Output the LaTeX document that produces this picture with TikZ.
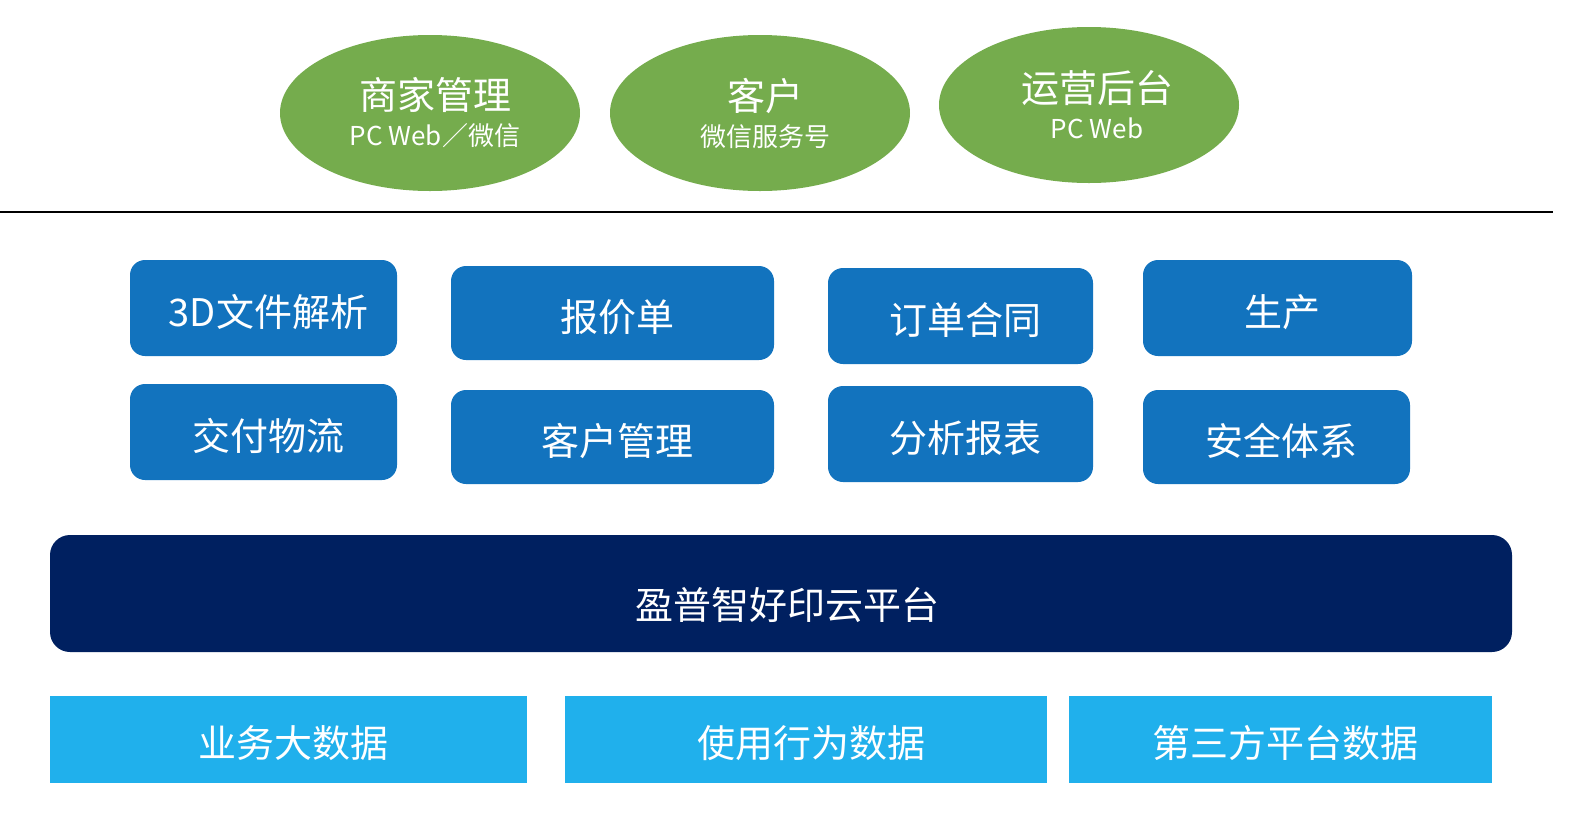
\documentclass[tikz,border=0pt]{standalone}
\usepackage{fontspec}
\newfontfamily\cjk{Noto Sans CJK SC}
\usetikzlibrary{positioning, shapes.geometric}
\definecolor{appgreen}{RGB}{117, 172, 77}
\definecolor{modblue}{RGB}{18, 115, 190}
\definecolor{platnavy}{RGB}{0, 32, 96}
\definecolor{datacyan}{RGB}{32, 176, 236}
\newcommand{\appsub}[1]{{\fontsize{26}{26}\selectfont #1}}

\begin{document}
\begin{tikzpicture}[x=1pt, y=-1pt,
      appnode/.style={ellipse, fill=appgreen, minimum width=300pt, minimum height=156pt, inner sep=0pt, align=center, text=white, font=\cjk\fontsize{38}{36}\selectfont},
      modbox/.style={fill=modblue, minimum width=#1, minimum height=96pt, rounded corners=15pt, text=white, inner sep=0pt, text height=40pt, text depth=3pt, font=\cjk\fontsize{38}{42}\selectfont, execute at begin node=\hspace*{10pt}},
      databox/.style={fill=datacyan, minimum width=#1, minimum height=87pt, text=white, inner sep=0pt, text height=39pt, text depth=3pt, font=\cjk\fontsize{38}{42}\selectfont, execute at begin node=\hspace*{10pt}},
      sepline/.style={line width=1.5pt, black}
    ]
      \useasboundingbox (0,0) rectangle (1572,836);

      % client applications
      \node [appnode] (merchant) at (430,113) {\hspace*{10pt}商家管理\\\hspace*{10pt}\appsub{PC Web／微信}};
      \node [appnode] (customer) at (760,113) {\hspace*{10pt}客户\\\hspace*{10pt}\appsub{微信服务号}};
      \node [appnode] (backend) at (1089,105) {\hspace*{16pt}运营后台\\\hspace*{16pt}\appsub{PC Web}};

      \coordinate (sepL) at (0,212);
      \coordinate (sepR) at (1553,212);
      \draw [sepline] (sepL) -- (sepR);

      % business modules
      \node [modbox=267pt] (m3d) at (263.5,308) {3D文件解析};
      \node [modbox=323pt, minimum height=94pt] (mquote) at (612.5,313) {报价单};
      \node [modbox=265pt] (morder) at (960.5,316) {订单合同};
      \node [modbox=269pt] (mprod) at (1277.5,308) {生产};
      \node [modbox=267pt] (mlogi) at (263.5,432) {交付物流};
      \node [modbox=323pt, minimum height=94pt] (mcrm) at (612.5,437) {客户管理};
      \node [modbox=265pt] (mreport) at (960.5,434) {分析报表};
      \node [modbox=267pt, minimum height=94pt] (msec) at (1276.5,437) {安全体系};

      % platform
      \node [fill=platnavy, minimum width=1462pt, minimum height=117pt, rounded corners=20pt, inner sep=0pt] (plat) at (781,593.5) {};
      \node [text=white, inner sep=0pt, font=\cjk\fontsize{38}{42}\selectfont] (platlbl) at (787,605) {盈普智好印云平台};

      % data sources
      \node [databox=477pt] (dbiz) at (288.5,739.5) {业务大数据};
      \node [databox=482pt] (duse) at (806,739.5) {使用行为数据};
      \node [databox=423pt] (dthird) at (1280.5,739.5) {第三方平台数据};
    \end{tikzpicture}
\end{document}
